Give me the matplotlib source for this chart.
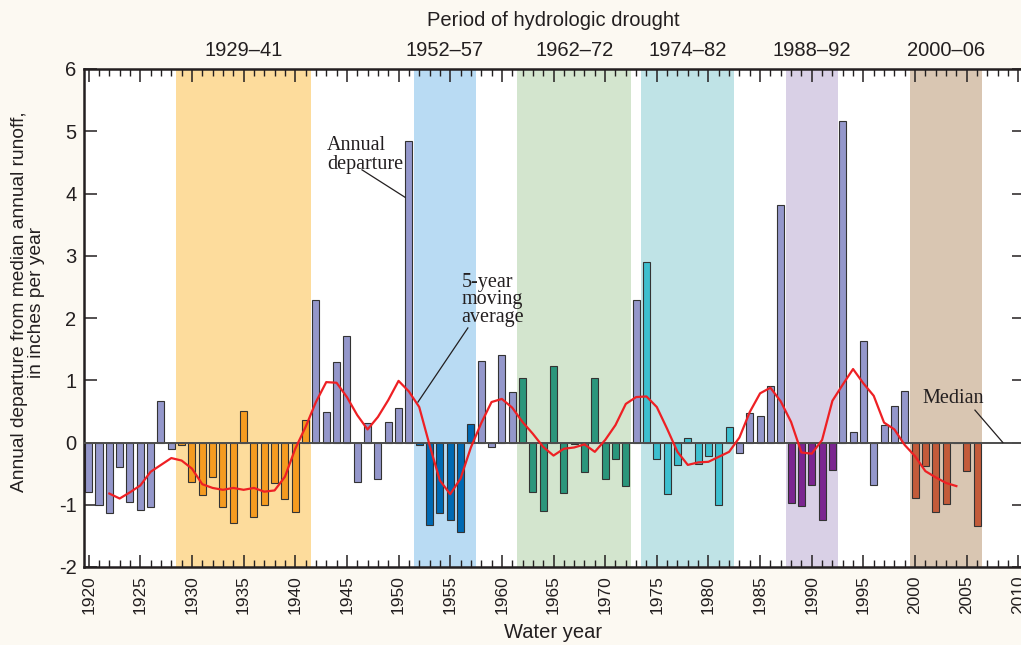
"""Annual departure from median annual runoff, with drought periods shaded."""

import matplotlib
matplotlib.use("Agg")
import matplotlib.pyplot as plt
import matplotlib.transforms as mtransforms
from matplotlib.ticker import MultipleLocator

plt.rcParams["axes.unicode_minus"] = False

# annual departure, water years 1920-2006 (inches per year)
years = list(range(1920, 2007))
departure = [
    -0.79, -1.00, -1.14, -0.39, -0.96, -1.08, -1.04, 0.66, -0.10, -0.04,   # 1920s
    -0.64, -0.84, -0.56, -1.04, -1.30, 0.51, -1.20, -1.00, -0.65, -0.91,   # 1930s
    -1.11, 0.36, 2.29, 0.49, 1.30, 1.71, -0.63, 0.32, -0.59, 0.33,         # 1940s
    0.55, 4.85, -0.04, -1.32, -1.14, -1.25, -1.44, 0.29, 1.31, -0.07,      # 1950s
    1.41, 0.81, 1.03, -0.79, -1.10, 1.23, -0.81, -0.03, -0.47, 1.03,       # 1960s
    -0.59, -0.26, -0.70, 2.29, 2.90, -0.26, -0.83, -0.36, 0.07, -0.34,     # 1970s
    -0.22, -1.00, 0.25, -0.17, 0.47, 0.42, 0.90, 3.82, -0.97, -1.02,       # 1980s
    -0.69, -1.25, -0.44, 5.17, 0.17, 1.63, -0.69, 0.28, 0.59, 0.82,        # 1990s
    -0.89, -0.37, -1.12, -0.99, -0.01, -0.45, -1.34,                       # 2000s
]

# 5-year moving average, 1922-2004
ma_years = list(range(1922, 2005))
moving_avg = [
    -0.82, -0.90, -0.80, -0.69, -0.47, -0.36, -0.25, -0.29,
    -0.42, -0.67, -0.73, -0.76, -0.73, -0.76, -0.73, -0.79, -0.77, -0.55,
    -0.10, 0.25, 0.65, 0.97, 0.96, 0.73, 0.44, 0.21, 0.41, 0.68,
    0.99, 0.82, 0.57, -0.04, -0.61, -0.83, -0.58, -0.08, 0.31, 0.65,
    0.70, 0.56, 0.33, 0.14, -0.07, -0.21, -0.10, -0.08, -0.03, -0.15,
    0.04, 0.28, 0.62, 0.73, 0.74, 0.57, 0.22, -0.15, -0.36, -0.32,
    -0.31, -0.23, -0.15, 0.08, 0.49, 0.79, 0.88, 0.66, 0.33, -0.16,
    -0.18, 0.04, 0.67, 0.93, 1.18, 0.95, 0.75, 0.32, 0.21, -0.04,
    -0.22, -0.46, -0.56, -0.65, -0.70,
]

# drought periods
period_labels = ["1929–41", "1952–57", "1962–72", "1974–82", "1988–92", "2000–06"]
period_start = [1929, 1952, 1962, 1974, 1988, 2000]
period_end = [1941, 1957, 1972, 1982, 1992, 2006]

y_ticks = [-2, -1, 0, 1, 2, 3, 4, 5, 6]
x_ticks = list(range(1920, 2011, 5))

SPAN_COLORS = ["#FDDC9C", "#B9DBF3", "#D3E5CE", "#BFE3E6", "#D9D0E6", "#D9C6B2"]
BAR_COLORS = ["#F59B20", "#0069B3", "#2B967C", "#3DBFCF", "#7B2590", "#C35B3A"]
DEFAULT_BAR = "#9497CB"

SANS = ["Liberation Sans", "DejaVu Sans"]
SERIF = ["Liberation Serif", "DejaVu Serif"]
INK = "#231F20"


def bar_color(yr):
    for s, e, c in zip(period_start, period_end, BAR_COLORS):
        if s <= yr <= e:
            return c
    return DEFAULT_BAR


fig = plt.figure(figsize=(10.21, 6.45), dpi=100, facecolor="#FCF9F2")
ax = fig.add_axes([83.5 / 1021, 78 / 645, 940 / 1021, 498 / 645])
ax.set_facecolor("white")

for s, e, c in zip(period_start, period_end, SPAN_COLORS):
    ax.axvspan(s - 0.5, e + 0.5, color=c, lw=0, zorder=0)

ax.bar(years, departure, width=0.68, color=[bar_color(y) for y in years],
       edgecolor="#333333", linewidth=0.8, zorder=2)
ax.axhline(0, color="#4D4D4D", lw=1.4, zorder=3)
ax.plot(ma_years, moving_avg, color="#EE2024", lw=1.6, zorder=4)

ax.set_xlim(1919.5, 2010.5)
ax.set_ylim(-2, 6)

ax.set_xticks(x_ticks)
ax.set_xticklabels([str(v) for v in x_ticks], rotation=90, family=SANS,
                   fontsize=12.5, color=INK)
ax.xaxis.set_minor_locator(MultipleLocator(1))
ax.set_yticks(y_ticks)
ax.set_yticklabels([str(v) for v in y_ticks], family=SANS, fontsize=14.5, color=INK)

ax.tick_params(axis="x", which="major", direction="in", length=9, width=1.1,
               top=True, bottom=True, color=INK, pad=6)
ax.tick_params(axis="x", which="minor", direction="in", length=5, width=1.0,
               top=True, bottom=True, color=INK)
ax.tick_params(axis="y", which="major", direction="in", length=9, width=1.1,
               left=True, right=True, color=INK, pad=5)

for sp in ax.spines.values():
    sp.set_linewidth(1.8)
    sp.set_color(INK)

# titles and axis labels
fig.text(553 / 1021, 1 - 20 / 645, "Period of hydrologic drought", family=SANS,
         fontsize=14.5, ha="center", va="center", color=INK)
trans = mtransforms.blended_transform_factory(ax.transData, ax.transAxes)
for lbl, s, e in zip(period_labels, period_start, period_end):
    ax.text((s + e) / 2, 1.038, lbl, transform=trans, family=SANS, fontsize=14.5,
            ha="center", va="center", color=INK)
fig.text(553 / 1021, 1 - 632 / 645, "Water year", family=SANS, fontsize=14.5,
         ha="center", va="center", color=INK)
fig.text(28 / 1021, 1 - 302 / 645,
         "Annual departure from median annual runoff,\nin inches per year",
         family=SANS, fontsize=13.8, rotation=90, ha="center", va="center",
         multialignment="center", color=INK, linespacing=1.0)

# callouts
ax.text(1946.75, 4.62, "Annual\ndeparture", family=SERIF, fontsize=14.5,
        ha="center", va="center", multialignment="left", color=INK, linespacing=0.95)
ax.plot([1946.46, 1950.62], [4.38, 3.94], color=INK, lw=0.9, zorder=5)
ax.text(1956.1, 2.29, "5-year\nmoving\naverage", family=SERIF, fontsize=14.5,
        ha="left", va="center", color=INK, linespacing=0.92)
ax.plot([1956.71, 1951.88], [1.84, 0.65], color=INK, lw=0.9, zorder=5)
ax.text(2003.67, 0.71, "Median", family=SERIF, fontsize=14.5,
        ha="center", va="center", color=INK)
ax.plot([2005.8, 2008.5], [0.52, 0.0], color=INK, lw=0.9, zorder=5)

fig.savefig("out.png", dpi=100, facecolor=fig.get_facecolor())
